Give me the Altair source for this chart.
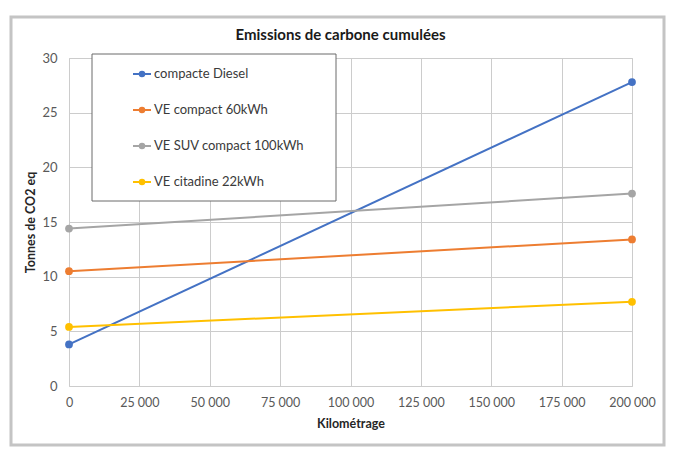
import altair as alt
import pandas as pd

# ---- data ----
km = [0, 200000]
series_names = ["compacte Diesel", "VE compact  60kWh", "VE SUV compact 100kWh", "VE citadine 22kWh"]
diesel = [3.8, 27.8]
ve60 = [10.5, 13.4]
suv100 = [14.4, 17.6]
citadine22 = [5.4, 7.7]
colors = ["#4472C4", "#ED7D31", "#A5A5A5", "#FFC000"]
x_ticks = [0, 25000, 50000, 75000, 100000, 125000, 150000, 175000, 200000]
y_ticks = [0, 5, 10, 15, 20, 25, 30]

rows = []
for name, vals in zip(series_names, [diesel, ve60, suv100, citadine22]):
    for k, v in zip(km, vals):
        rows.append({"km": k, "t": v, "serie": name})
df = pd.DataFrame(rows)

FONT = "Lato"
W, H = 563, 328

sym = ("M-1,0L1,0"
       "M0.25,0A0.25,0.25,0,1,1,-0.25,0A0.25,0.25,0,1,1,0.25,0"
       "M0.1,0A0.1,0.1,0,1,1,-0.1,0A0.1,0.1,0,1,1,0.1,0")

one = pd.DataFrame({"a": [0]})

frame = alt.Chart(one).mark_rect(fill="transparent", stroke="#c4c4c4", strokeWidth=3).encode(
    x=alt.value(-58), x2=alt.value(595), y=alt.value(-41), y2=alt.value(387)
)

lines = alt.Chart(df).mark_line(
    strokeWidth=2,
    point=alt.OverlayMarkDef(filled=True, size=60),
).encode(
    x=alt.X("km:Q", title="Kilométrage",
            scale=alt.Scale(domain=[0, 200000], nice=False),
            axis=alt.Axis(values=x_ticks, labelOverlap=False, labelFlush=False,
                          labelFontSize=12.5,
                          labelExpr="replace(format(datum.value, ',d'), /,/g, ' ')")),
    y=alt.Y("t:Q", title="Tonnes de CO2 eq",
            scale=alt.Scale(domain=[0, 30], nice=False),
            axis=alt.Axis(values=y_ticks, labelFlush=False)),
    color=alt.Color("serie:N", title=None,
                    scale=alt.Scale(domain=series_names, range=colors),
                    legend=alt.Legend(orient="none", legendX=53, legendY=-4,
                                      padding=10, rowPadding=19,
                                      symbolType=sym, symbolSize=324,
                                      symbolStrokeWidth=2, labelOffset=2,
                                      labelFontSize=13, labelColor="#3a3a3a",
                                      labelFont=FONT)),
)

legend_box = alt.Chart(one).mark_rect(fill="white", stroke="#6b6b6b", strokeWidth=1).encode(
    x=alt.value(23), x2=alt.value(267), y=alt.value(-4), y2=alt.value(143)
)

chart = alt.layer(frame, lines, legend_box).properties(
    width=W, height=H,
    background="white",
    padding={"left": 61, "top": 50, "right": 40, "bottom": 70},
    autosize=alt.AutoSizeParams(type="none"),
    title=alt.TitleParams("Emissions de carbone cumulées", font=FONT, fontSize=15,
                          fontWeight="bold", color="#1a1a1a", offset=16, dx=-10, dy=43),
).configure_axis(
    grid=True, gridColor="#cccccc", gridWidth=1,
    domain=False, ticks=False,
    labelFont=FONT, labelFontSize=13, labelColor="#595959",
    titleFont=FONT, titleFontSize=12.5, titleFontWeight="bold", titleColor="#262626",
).configure_axisX(
    labelPadding=10, titlePadding=9,
).configure_axisY(
    labelPadding=12, titlePadding=4,
).configure_view(
    stroke="#cccccc"
)

chart.save("out.html", embed_options={"renderer": "svg", "actions": False})
